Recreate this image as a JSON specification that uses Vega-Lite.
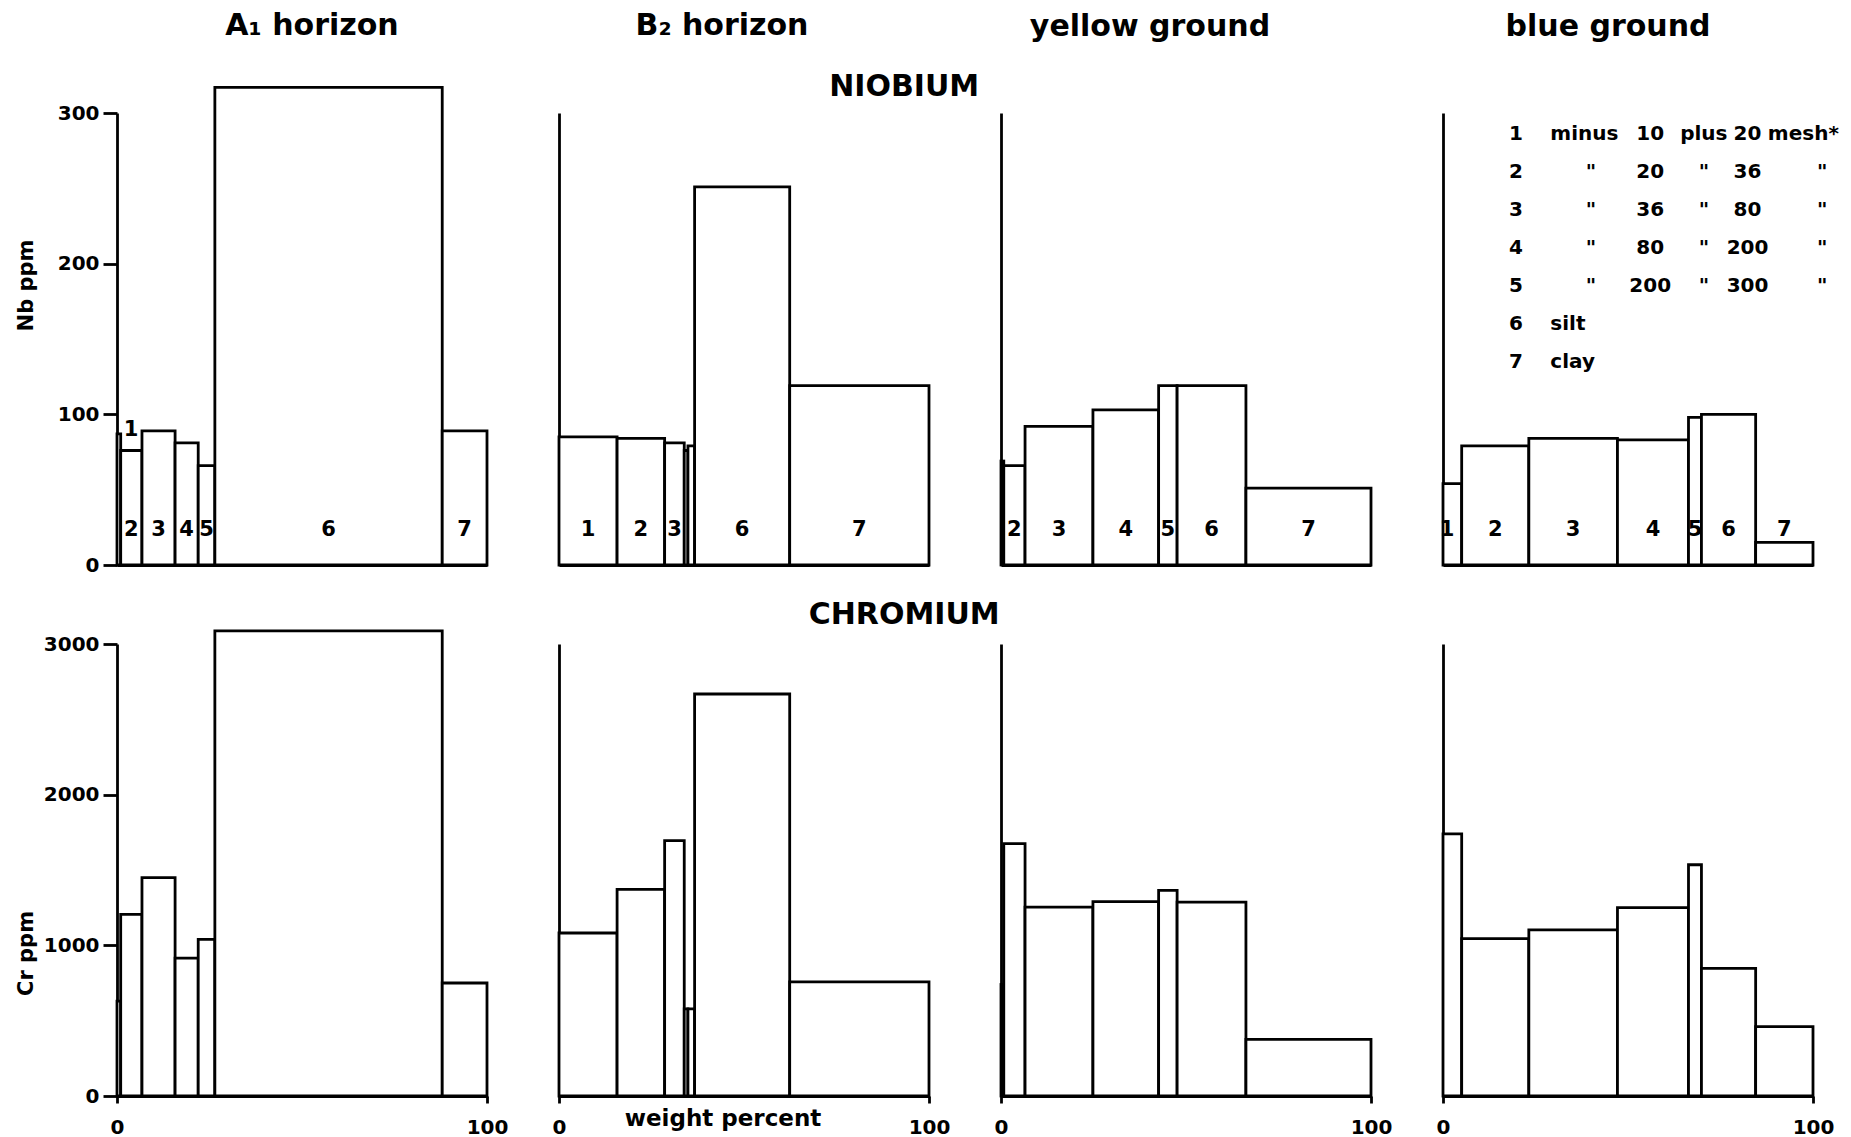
{
  "$schema": "https://vega.github.io/schema/vega-lite/v6.json",
  "background": "white",
  "autosize": {"type": "pad"},
  "padding": {"left": 15, "top": 10, "right": 4, "bottom": 2},
  "datasets": {
    "bars": [
      {"element": "Nb", "horizon": "A1", "frac": 1, "x0": 0, "x1": 1.0, "ppm": 87},
      {"element": "Nb", "horizon": "A1", "frac": 2, "x0": 1.0, "x1": 6.75, "ppm": 76},
      {"element": "Nb", "horizon": "A1", "frac": 3, "x0": 6.75, "x1": 15.7, "ppm": 89},
      {"element": "Nb", "horizon": "A1", "frac": 4, "x0": 15.7, "x1": 21.95, "ppm": 81},
      {"element": "Nb", "horizon": "A1", "frac": 5, "x0": 21.95, "x1": 26.45, "ppm": 66},
      {"element": "Nb", "horizon": "A1", "frac": 6, "x0": 26.45, "x1": 87.9, "ppm": 317},
      {"element": "Nb", "horizon": "A1", "frac": 7, "x0": 87.9, "x1": 100, "ppm": 89},
      {"element": "Nb", "horizon": "B2", "frac": 1, "x0": 0, "x1": 15.7, "ppm": 85},
      {"element": "Nb", "horizon": "B2", "frac": 2, "x0": 15.7, "x1": 28.55, "ppm": 84},
      {"element": "Nb", "horizon": "B2", "frac": 3, "x0": 28.55, "x1": 33.85, "ppm": 81},
      {"element": "Nb", "horizon": "B2", "frac": 4, "x0": 33.85, "x1": 34.85, "ppm": 76},
      {"element": "Nb", "horizon": "B2", "frac": 5, "x0": 34.85, "x1": 36.65, "ppm": 79},
      {"element": "Nb", "horizon": "B2", "frac": 6, "x0": 36.65, "x1": 62.35, "ppm": 251},
      {"element": "Nb", "horizon": "B2", "frac": 7, "x0": 62.35, "x1": 100, "ppm": 119},
      {"element": "Nb", "horizon": "yellow", "frac": 1, "x0": 0, "x1": 0.75, "ppm": 69},
      {"element": "Nb", "horizon": "yellow", "frac": 2, "x0": 0.75, "x1": 6.5, "ppm": 66},
      {"element": "Nb", "horizon": "yellow", "frac": 3, "x0": 6.5, "x1": 24.85, "ppm": 92},
      {"element": "Nb", "horizon": "yellow", "frac": 4, "x0": 24.85, "x1": 42.6, "ppm": 103},
      {"element": "Nb", "horizon": "yellow", "frac": 5, "x0": 42.6, "x1": 47.6, "ppm": 119},
      {"element": "Nb", "horizon": "yellow", "frac": 6, "x0": 47.6, "x1": 66.2, "ppm": 119},
      {"element": "Nb", "horizon": "yellow", "frac": 7, "x0": 66.2, "x1": 100, "ppm": 51},
      {"element": "Nb", "horizon": "blue", "frac": 1, "x0": 0, "x1": 5.05, "ppm": 54},
      {"element": "Nb", "horizon": "blue", "frac": 2, "x0": 5.05, "x1": 23.2, "ppm": 79},
      {"element": "Nb", "horizon": "blue", "frac": 3, "x0": 23.2, "x1": 47.15, "ppm": 84},
      {"element": "Nb", "horizon": "blue", "frac": 4, "x0": 47.15, "x1": 66.35, "ppm": 83},
      {"element": "Nb", "horizon": "blue", "frac": 5, "x0": 66.35, "x1": 69.85, "ppm": 98},
      {"element": "Nb", "horizon": "blue", "frac": 6, "x0": 69.85, "x1": 84.5, "ppm": 100},
      {"element": "Nb", "horizon": "blue", "frac": 7, "x0": 84.5, "x1": 100, "ppm": 15},
      {"element": "Cr", "horizon": "A1", "frac": 1, "x0": 0, "x1": 1.0, "ppm": 630},
      {"element": "Cr", "horizon": "A1", "frac": 2, "x0": 1.0, "x1": 6.75, "ppm": 1205},
      {"element": "Cr", "horizon": "A1", "frac": 3, "x0": 6.75, "x1": 15.7, "ppm": 1450},
      {"element": "Cr", "horizon": "A1", "frac": 4, "x0": 15.7, "x1": 21.95, "ppm": 915},
      {"element": "Cr", "horizon": "A1", "frac": 5, "x0": 21.95, "x1": 26.45, "ppm": 1040},
      {"element": "Cr", "horizon": "A1", "frac": 6, "x0": 26.45, "x1": 87.9, "ppm": 3087},
      {"element": "Cr", "horizon": "A1", "frac": 7, "x0": 87.9, "x1": 100, "ppm": 750},
      {"element": "Cr", "horizon": "B2", "frac": 1, "x0": 0, "x1": 15.7, "ppm": 1082},
      {"element": "Cr", "horizon": "B2", "frac": 2, "x0": 15.7, "x1": 28.55, "ppm": 1372},
      {"element": "Cr", "horizon": "B2", "frac": 3, "x0": 28.55, "x1": 33.85, "ppm": 1695},
      {"element": "Cr", "horizon": "B2", "frac": 4, "x0": 33.85, "x1": 34.85, "ppm": 578},
      {"element": "Cr", "horizon": "B2", "frac": 5, "x0": 34.85, "x1": 36.65, "ppm": 578},
      {"element": "Cr", "horizon": "B2", "frac": 6, "x0": 36.65, "x1": 62.35, "ppm": 2668},
      {"element": "Cr", "horizon": "B2", "frac": 7, "x0": 62.35, "x1": 100, "ppm": 757},
      {"element": "Cr", "horizon": "yellow", "frac": 1, "x0": 0, "x1": 0.75, "ppm": 740},
      {"element": "Cr", "horizon": "yellow", "frac": 2, "x0": 0.75, "x1": 6.5, "ppm": 1675},
      {"element": "Cr", "horizon": "yellow", "frac": 3, "x0": 6.5, "x1": 24.85, "ppm": 1254},
      {"element": "Cr", "horizon": "yellow", "frac": 4, "x0": 24.85, "x1": 42.6, "ppm": 1290},
      {"element": "Cr", "horizon": "yellow", "frac": 5, "x0": 42.6, "x1": 47.6, "ppm": 1365},
      {"element": "Cr", "horizon": "yellow", "frac": 6, "x0": 47.6, "x1": 66.2, "ppm": 1287},
      {"element": "Cr", "horizon": "yellow", "frac": 7, "x0": 66.2, "x1": 100, "ppm": 376},
      {"element": "Cr", "horizon": "blue", "frac": 1, "x0": 0, "x1": 5.05, "ppm": 1740},
      {"element": "Cr", "horizon": "blue", "frac": 2, "x0": 5.05, "x1": 23.2, "ppm": 1045},
      {"element": "Cr", "horizon": "blue", "frac": 3, "x0": 23.2, "x1": 47.15, "ppm": 1102},
      {"element": "Cr", "horizon": "blue", "frac": 4, "x0": 47.15, "x1": 66.35, "ppm": 1250},
      {"element": "Cr", "horizon": "blue", "frac": 5, "x0": 66.35, "x1": 69.85, "ppm": 1535},
      {"element": "Cr", "horizon": "blue", "frac": 6, "x0": 69.85, "x1": 84.5, "ppm": 847},
      {"element": "Cr", "horizon": "blue", "frac": 7, "x0": 84.5, "x1": 100, "ppm": 460}
    ],
    "legend": [
      {"n": 1, "pre": "minus", "from": "10", "mid": "plus", "to": "20", "post": "mesh*"},
      {"n": 2, "pre": "\"", "from": "20", "mid": "\"", "to": "36", "post": "\""},
      {"n": 3, "pre": "\"", "from": "36", "mid": "\"", "to": "80", "post": "\""},
      {"n": 4, "pre": "\"", "from": "80", "mid": "\"", "to": "200", "post": "\""},
      {"n": 5, "pre": "\"", "from": "200", "mid": "\"", "to": "300", "post": "\""},
      {"n": 6, "pre": "silt"},
      {"n": 7, "pre": "clay"}
    ]
  },
  "data": {"name": "bars"},
  "columns": 4,
  "spacing": {"row": 79, "column": 72},
  "bounds": "flush",
  "concat": [
    {
      "width": 370, "height": 452,
      "title": {"text": "A₁ horizon", "dx": 10, "offset": 45},
      "transform": [{"filter": "datum.element === 'Nb' && datum.horizon === 'A1'"}],
      "layer": [
        {
          "mark": {"type": "rect", "fill": "white", "stroke": "black", "strokeWidth": 2.8},
          "encoding": {
            "x": {"field": "x0", "type": "quantitative", "scale": {"domain": [0, 100], "nice": false, "zero": false}, "axis": {"title": null, "ticks": false, "labels": false}},
            "x2": {"field": "x1"},
            "y": {"field": "ppm", "type": "quantitative", "scale": {"domain": [0, 300], "nice": false}, "axis": {"values": [0, 100, 200, 300], "format": "d", "tickSize": 14, "labelPadding": 4, "labelFontSize": 20, "labelFlush": false, "title": "Nb ppm", "titleX": -91, "titleY": 172, "titleAngle": 270, "titleBaseline": "middle", "titleAlign": "center", "titleFontSize": 21}},
            "y2": {"datum": 0}
          }
        },
        {
          "transform": [{"filter": "datum.frac >= 2"}, {"fold": ["x0", "x1"], "as": ["edge", "pos"]}],
          "mark": {"type": "text", "fontSize": 21, "align": "center", "baseline": "middle"},
          "encoding": {
            "x": {"aggregate": "mean", "field": "pos", "type": "quantitative"},
            "y": {"datum": 23, "type": "quantitative"},
            "text": {"field": "frac", "type": "nominal"}
          }
        },
        {
          "transform": [{"filter": "datum.frac === 1"}],
          "mark": {"type": "text", "fontSize": 21, "align": "left", "baseline": "alphabetic", "dx": 3, "dy": 2},
          "encoding": {
            "x": {"field": "x1", "type": "quantitative"},
            "y": {"field": "ppm", "type": "quantitative"},
            "text": {"field": "frac", "type": "nominal"}
          }
        }
      ]
    },
    {
      "width": 370, "height": 452,
      "title": {"text": "B₂ horizon", "dx": -22, "offset": 31},
      "transform": [{"filter": "datum.element === 'Nb' && datum.horizon === 'B2'"}],
      "layer": [
        {
          "mark": {"type": "rect", "fill": "white", "stroke": "black", "strokeWidth": 2.8},
          "encoding": {
            "x": {"field": "x0", "type": "quantitative", "scale": {"domain": [0, 100], "nice": false, "zero": false}, "axis": {"title": null, "ticks": false, "labels": false}},
            "x2": {"field": "x1"},
            "y": {"field": "ppm", "type": "quantitative", "scale": {"domain": [0, 300], "nice": false}, "axis": {"title": null, "ticks": false, "labels": false}},
            "y2": {"datum": 0}
          }
        },
        {
          "transform": [{"filter": "datum.frac !== 4 && datum.frac !== 5"}, {"fold": ["x0", "x1"], "as": ["edge", "pos"]}],
          "mark": {"type": "text", "fontSize": 21, "align": "center", "baseline": "middle"},
          "encoding": {
            "x": {"aggregate": "mean", "field": "pos", "type": "quantitative"},
            "y": {"datum": 23, "type": "quantitative"},
            "text": {"field": "frac", "type": "nominal"}
          }
        },
        {
          "transform": [{"filter": "datum.frac === 6"}],
          "mark": {"type": "text", "fontSize": 30, "align": "center", "baseline": "middle"},
          "encoding": {
            "x": {"datum": 93.3, "type": "quantitative"},
            "y": {"datum": 317, "type": "quantitative"},
            "text": {"value": "NIOBIUM"}
          }
        }
      ]
    },
    {
      "width": 370, "height": 452,
      "title": {"text": "yellow ground", "dx": -36, "offset": 71},
      "transform": [{"filter": "datum.element === 'Nb' && datum.horizon === 'yellow'"}],
      "layer": [
        {
          "mark": {"type": "rect", "fill": "white", "stroke": "black", "strokeWidth": 2.8},
          "encoding": {
            "x": {"field": "x0", "type": "quantitative", "scale": {"domain": [0, 100], "nice": false, "zero": false}, "axis": {"title": null, "ticks": false, "labels": false}},
            "x2": {"field": "x1"},
            "y": {"field": "ppm", "type": "quantitative", "scale": {"domain": [0, 300], "nice": false}, "axis": {"title": null, "ticks": false, "labels": false}},
            "y2": {"datum": 0}
          }
        },
        {
          "transform": [{"filter": "datum.frac >= 2"}, {"fold": ["x0", "x1"], "as": ["edge", "pos"]}],
          "mark": {"type": "text", "fontSize": 21, "align": "center", "baseline": "middle"},
          "encoding": {
            "x": {"aggregate": "mean", "field": "pos", "type": "quantitative"},
            "y": {"datum": 23, "type": "quantitative"},
            "text": {"field": "frac", "type": "nominal"}
          }
        }
      ]
    },
    {
      "width": 370, "height": 452,
      "title": {"text": "blue ground", "dx": -20, "offset": 71},
      "resolve": {"scale": {"y": "independent"}},
      "layer": [
        {
          "transform": [{"filter": "datum.element === 'Nb' && datum.horizon === 'blue'"}],
          "mark": {"type": "rect", "fill": "white", "stroke": "black", "strokeWidth": 2.8},
          "encoding": {
            "x": {"field": "x0", "type": "quantitative", "scale": {"domain": [0, 100], "nice": false, "zero": false}, "axis": {"title": null, "ticks": false, "labels": false}},
            "x2": {"field": "x1"},
            "y": {"field": "ppm", "type": "quantitative", "scale": {"domain": [0, 300], "nice": false}, "axis": {"title": null, "ticks": false, "labels": false}},
            "y2": {"datum": 0}
          }
        },
        {
          "transform": [{"filter": "datum.element === 'Nb' && datum.horizon === 'blue' && datum.frac >= 2"}, {"fold": ["x0", "x1"], "as": ["edge", "pos"]}],
          "mark": {"type": "text", "fontSize": 21, "align": "center", "baseline": "middle"},
          "encoding": {
            "x": {"aggregate": "mean", "field": "pos", "type": "quantitative"},
            "y": {"datum": 23, "type": "quantitative", "scale": {"domain": [0, 300], "nice": false}, "axis": null},
            "text": {"field": "frac", "type": "nominal"}
          }
        },
        {
          "transform": [{"filter": "datum.element === 'Nb' && datum.horizon === 'blue' && datum.frac === 1"}],
          "mark": {"type": "text", "fontSize": 21, "align": "center", "baseline": "middle", "dx": 4},
          "encoding": {
            "x": {"field": "x0", "type": "quantitative"},
            "y": {"datum": 23, "type": "quantitative", "scale": {"domain": [0, 300], "nice": false}, "axis": null},
            "text": {"field": "frac", "type": "nominal"}
          }
        },
        {
          "data": {"name": "legend"},
          "mark": {"type": "text", "fontSize": 20, "align": "center", "baseline": "middle"},
          "encoding": {
            "x": {"datum": 19.7, "type": "quantitative"},
            "y": {"field": "n", "type": "quantitative", "scale": {"domain": [0.437, 12.33], "reverse": true, "nice": false, "zero": false}, "axis": null},
            "text": {"field": "n", "type": "nominal"}
          }
        },
        {
          "data": {"name": "legend"},
          "transform": [{"filter": "datum.pre !== '\"'"}],
          "mark": {"type": "text", "fontSize": 20, "align": "left", "baseline": "middle"},
          "encoding": {
            "x": {"datum": 29, "type": "quantitative"},
            "y": {"field": "n", "type": "quantitative", "scale": {"domain": [0.437, 12.33], "reverse": true, "nice": false, "zero": false}, "axis": null},
            "text": {"field": "pre", "type": "nominal"}
          }
        },
        {
          "data": {"name": "legend"},
          "transform": [{"filter": "datum.pre === '\"'"}],
          "mark": {"type": "text", "fontSize": 20, "align": "center", "baseline": "middle"},
          "encoding": {
            "x": {"datum": 40, "type": "quantitative"},
            "y": {"field": "n", "type": "quantitative", "scale": {"domain": [0.437, 12.33], "reverse": true, "nice": false, "zero": false}, "axis": null},
            "text": {"field": "pre", "type": "nominal"}
          }
        },
        {
          "data": {"name": "legend"},
          "transform": [{"filter": "isValid(datum.from)"}],
          "mark": {"type": "text", "fontSize": 20, "align": "center", "baseline": "middle"},
          "encoding": {
            "x": {"datum": 56, "type": "quantitative"},
            "y": {"field": "n", "type": "quantitative", "scale": {"domain": [0.437, 12.33], "reverse": true, "nice": false, "zero": false}, "axis": null},
            "text": {"field": "from", "type": "nominal"}
          }
        },
        {
          "data": {"name": "legend"},
          "transform": [{"filter": "isValid(datum.mid)"}],
          "mark": {"type": "text", "fontSize": 20, "align": "center", "baseline": "middle"},
          "encoding": {
            "x": {"datum": 70.5, "type": "quantitative"},
            "y": {"field": "n", "type": "quantitative", "scale": {"domain": [0.437, 12.33], "reverse": true, "nice": false, "zero": false}, "axis": null},
            "text": {"field": "mid", "type": "nominal"}
          }
        },
        {
          "data": {"name": "legend"},
          "transform": [{"filter": "isValid(datum.to)"}],
          "mark": {"type": "text", "fontSize": 20, "align": "center", "baseline": "middle"},
          "encoding": {
            "x": {"datum": 82.3, "type": "quantitative"},
            "y": {"field": "n", "type": "quantitative", "scale": {"domain": [0.437, 12.33], "reverse": true, "nice": false, "zero": false}, "axis": null},
            "text": {"field": "to", "type": "nominal"}
          }
        },
        {
          "data": {"name": "legend"},
          "transform": [{"filter": "datum.post === 'mesh*'"}],
          "mark": {"type": "text", "fontSize": 20, "align": "left", "baseline": "middle"},
          "encoding": {
            "x": {"datum": 87.8, "type": "quantitative"},
            "y": {"field": "n", "type": "quantitative", "scale": {"domain": [0.437, 12.33], "reverse": true, "nice": false, "zero": false}, "axis": null},
            "text": {"field": "post", "type": "nominal"}
          }
        },
        {
          "data": {"name": "legend"},
          "transform": [{"filter": "datum.post === '\"'"}],
          "mark": {"type": "text", "fontSize": 20, "align": "center", "baseline": "middle"},
          "encoding": {
            "x": {"datum": 102.5, "type": "quantitative"},
            "y": {"field": "n", "type": "quantitative", "scale": {"domain": [0.437, 12.33], "reverse": true, "nice": false, "zero": false}, "axis": null},
            "text": {"field": "post", "type": "nominal"}
          }
        }
      ]
    },
    {
      "width": 370, "height": 452,
      "transform": [{"filter": "datum.element === 'Cr' && datum.horizon === 'A1'"}],
      "mark": {"type": "rect", "fill": "white", "stroke": "black", "strokeWidth": 2.8},
      "encoding": {
        "x": {"field": "x0", "type": "quantitative", "scale": {"domain": [0, 100], "nice": false, "zero": false}, "axis": {"title": null, "values": [0, 100], "format": "d", "tickSize": 7, "labelPadding": 14, "labelFontSize": 20, "labelFlush": false}},
        "x2": {"field": "x1"},
        "y": {"field": "ppm", "type": "quantitative", "scale": {"domain": [0, 3000], "nice": false}, "axis": {"values": [0, 1000, 2000, 3000], "format": "d", "tickSize": 14, "labelPadding": 4, "labelFontSize": 20, "labelFlush": false, "title": "Cr ppm", "titleX": -91, "titleY": 309, "titleAngle": 270, "titleBaseline": "middle", "titleAlign": "center", "titleFontSize": 21}},
        "y2": {"datum": 0}
      }
    },
    {
      "width": 370, "height": 452,
      "transform": [{"filter": "datum.element === 'Cr' && datum.horizon === 'B2'"}],
      "layer": [
        {
          "mark": {"type": "rect", "fill": "white", "stroke": "black", "strokeWidth": 2.8},
          "encoding": {
            "x": {"field": "x0", "type": "quantitative", "scale": {"domain": [0, 100], "nice": false, "zero": false}, "axis": {"values": [0, 100], "format": "d", "tickSize": 7, "labelPadding": 14, "labelFontSize": 20, "labelFlush": false, "title": "weight percent", "titleX": 163.5, "titleY": 22.5, "titleBaseline": "middle", "titleAlign": "center", "titleFontSize": 23}},
            "x2": {"field": "x1"},
            "y": {"field": "ppm", "type": "quantitative", "scale": {"domain": [0, 3000], "nice": false}, "axis": {"title": null, "ticks": false, "labels": false}},
            "y2": {"datum": 0}
          }
        },
        {
          "transform": [{"filter": "datum.frac === 6"}],
          "mark": {"type": "text", "fontSize": 30, "align": "center", "baseline": "middle"},
          "encoding": {
            "x": {"datum": 93.3, "type": "quantitative"},
            "y": {"datum": 3195, "type": "quantitative"},
            "text": {"value": "CHROMIUM"}
          }
        }
      ]
    },
    {
      "width": 370, "height": 452,
      "transform": [{"filter": "datum.element === 'Cr' && datum.horizon === 'yellow'"}],
      "mark": {"type": "rect", "fill": "white", "stroke": "black", "strokeWidth": 2.8},
      "encoding": {
        "x": {"field": "x0", "type": "quantitative", "scale": {"domain": [0, 100], "nice": false, "zero": false}, "axis": {"title": null, "values": [0, 100], "format": "d", "tickSize": 7, "labelPadding": 14, "labelFontSize": 20, "labelFlush": false}},
        "x2": {"field": "x1"},
        "y": {"field": "ppm", "type": "quantitative", "scale": {"domain": [0, 3000], "nice": false}, "axis": {"title": null, "ticks": false, "labels": false}},
        "y2": {"datum": 0}
      }
    },
    {
      "width": 370, "height": 452,
      "transform": [{"filter": "datum.element === 'Cr' && datum.horizon === 'blue'"}],
      "mark": {"type": "rect", "fill": "white", "stroke": "black", "strokeWidth": 2.8},
      "encoding": {
        "x": {"field": "x0", "type": "quantitative", "scale": {"domain": [0, 100], "nice": false, "zero": false}, "axis": {"title": null, "values": [0, 100], "format": "d", "tickSize": 7, "labelPadding": 14, "labelFontSize": 20, "labelFlush": false}},
        "x2": {"field": "x1"},
        "y": {"field": "ppm", "type": "quantitative", "scale": {"domain": [0, 3000], "nice": false}, "axis": {"title": null, "ticks": false, "labels": false}},
        "y2": {"datum": 0}
      }
    }
  ],
  "config": {
    "view": {"stroke": null},
    "font": "DejaVu Sans",
    "axis": {"domainColor": "black", "domainWidth": 2.8, "tickColor": "black", "tickWidth": 2.8, "labelColor": "black", "labelFont": "DejaVu Sans", "labelFontWeight": "bold", "titleColor": "black", "titleFont": "DejaVu Sans", "titleFontWeight": "bold", "grid": false},
    "title": {"font": "DejaVu Sans", "fontSize": 30, "fontWeight": "bold", "color": "black", "anchor": "middle"},
    "text": {"font": "DejaVu Sans", "fontWeight": "bold", "color": "black"}
  }
}
